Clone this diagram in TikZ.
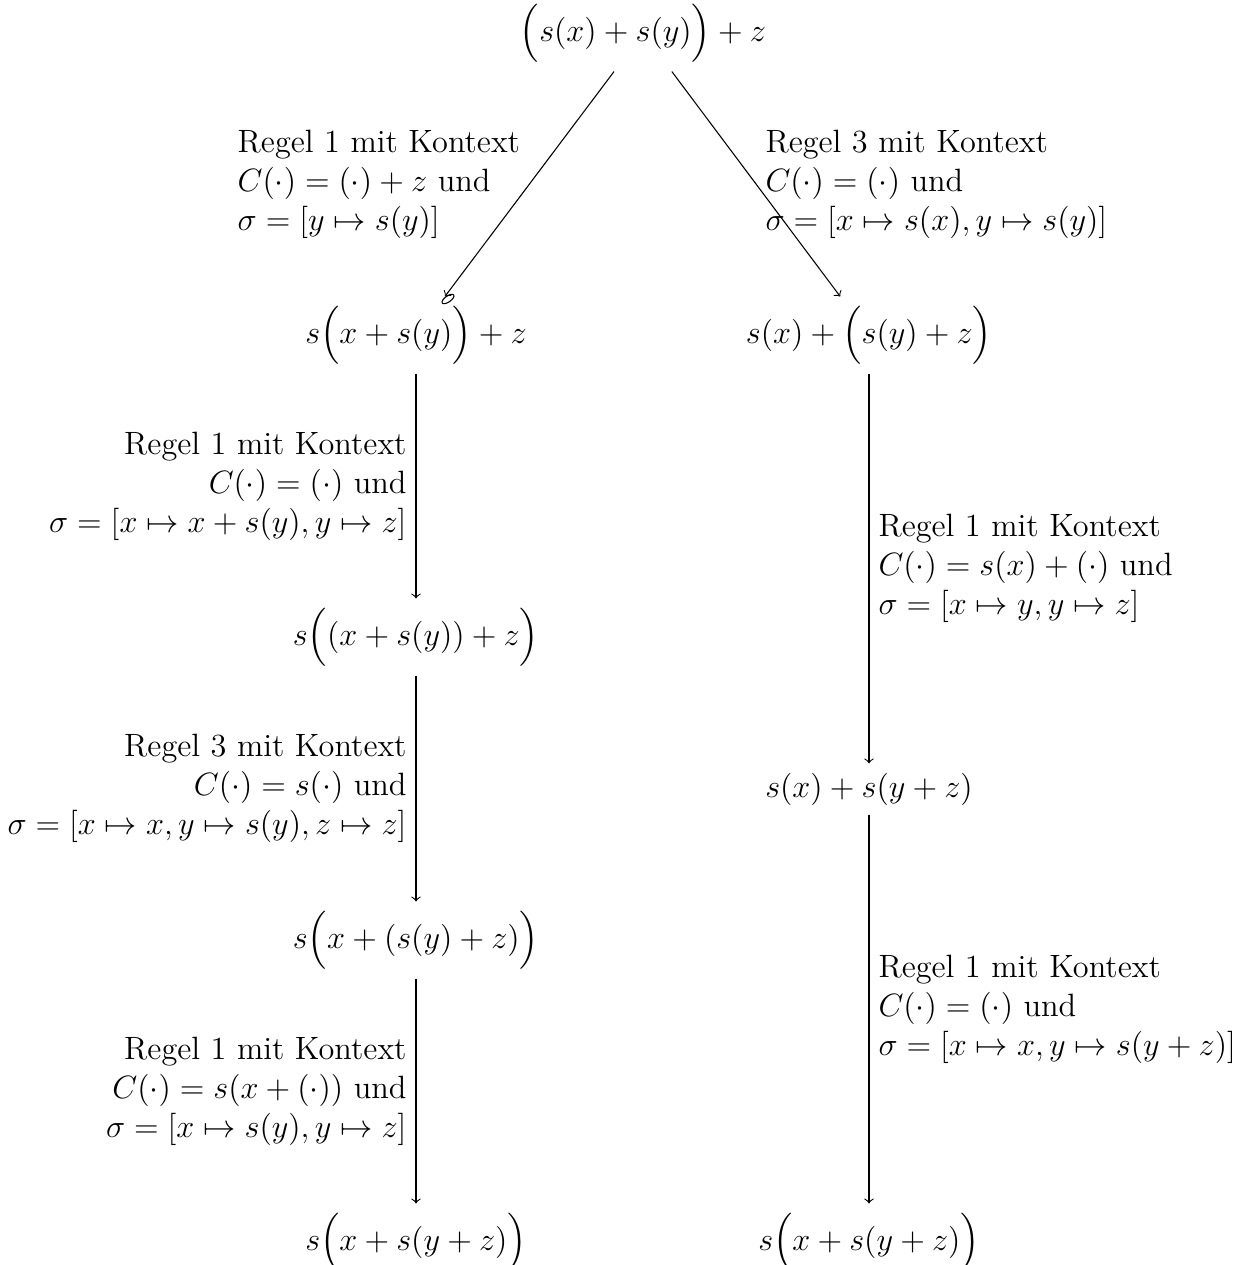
\documentclass[tikz,border=0pt,12pt]{standalone}
\usepackage{amsmath}
\begin{document}
\begin{tikzpicture}[x=0.37175pt,y=0.37175pt,
  term/.style={inner sep=3.33pt},
  lab/.style={inner sep=3.33pt},
  arr/.style={->}]
\useasboundingbox (0,0) rectangle (1244,-1265);
% terms
\node[term] (t)  at (643,-33)   {$\Big(s(x)+s(y)\Big)+z$};
\node[term] (l2) at (416,-335)  {$s\Big(x+s(y)\Big)+z$};
\node[term] (l3) at (416,-637)  {$s\Big((x+s(y))+z\Big)$};
\node[term] (l4) at (416,-940)  {$s\Big(x+(s(y)+z)\Big)$};
\node[term] (l5) at (416,-1242) {$s\Big(x+s(y+z)\Big)$};
\node[term] (r2) at (869,-335)  {$s(x)+\Big(s(y)+z\Big)$};
\node[term] (r3) at (869,-789)  {$s(x)+s(y+z)$};
\node[term] (r5) at (869,-1242) {$s\Big(x+s(y+z)\Big)$};
% connectors
\draw[arr] (t) -- node[midway,left,lab,align=left]
  {Regel 1 mit Kontext\\ $C(\cdot)=(\cdot)+z$ und\\ $\sigma=[y\mapsto s(y)]$} (l2);
\draw[arr] (t) -- node[midway,right,lab,align=left]
  {Regel 3 mit Kontext\\ $C(\cdot)=(\cdot)$ und\\ $\sigma=[x\mapsto s(x),y\mapsto s(y)]$} (r2);
\draw[arr] (l2.south) -- node[midway,left,lab,align=right]
  {Regel 1 mit Kontext\\ $C(\cdot)=(\cdot)$ und\\ $\sigma=[x\mapsto x+s(y),y\mapsto z]$} (l2.south |- l3.north);
\draw[arr] (l3.south) -- node[midway,left,lab,align=right]
  {Regel 3 mit Kontext\\ $C(\cdot)=s(\cdot)$ und\\ $\sigma=[x\mapsto x,y\mapsto s(y),z\mapsto z]$} (l3.south |- l4.north);
\draw[arr] (l4.south -| l2.south) -- node[midway,left,lab,align=right]
  {Regel 1 mit Kontext\\ $C(\cdot)=s(x+(\cdot))$ und\\ $\sigma=[x\mapsto s(y),y\mapsto z]$} (l2.south |- l5.north);
\draw[arr] (r2.south) -- node[midway,right,lab,align=left]
  {Regel 1 mit Kontext\\ $C(\cdot)=s(x)+(\cdot)$ und\\ $\sigma=[x\mapsto y,y\mapsto z]$} (r2.south |- r3.north);
\draw[arr] (r3.south) -- node[midway,right,lab,align=left]
  {Regel 1 mit Kontext\\ $C(\cdot)=(\cdot)$ und\\ $\sigma=[x\mapsto x,y\mapsto s(y+z)]$} (r3.south |- r5.north);
% small mark near the left arrow tip
\coordinate (mk) at (448,-299);
\draw[rotate around={35:(mk)}] (mk) ellipse [x radius=7, y radius=3];
\end{tikzpicture}
\end{document}
